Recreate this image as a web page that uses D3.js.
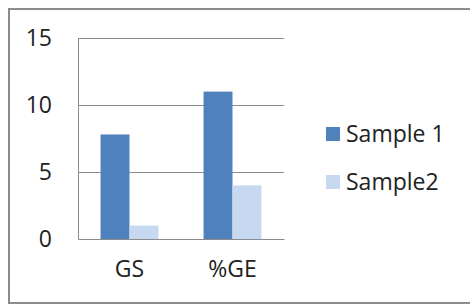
<!DOCTYPE html>
<html>
<head>
<meta charset="utf-8">
<script src="https://cdn.jsdelivr.net/npm/d3@7"></script>
<style>
  html, body { margin: 0; padding: 0; background: #fff; }
  svg { display: block; font-family: "Open Sans", sans-serif; }
</style>
</head>
<body>
<div id="chart"></div>
<script>
const categories = ["GS", "%GE"];
const seriesNames = ["Sample 1", "Sample2"];
const sample1 = [7.8, 11];
const sample2 = [1, 4];
const yTicks = [0, 5, 10, 15];
const colors = ["#4f81bd", "#c6d9f1"];

const width = 470, height = 306;
const margin = { top: 38, right: 186, bottom: 67, left: 78 };
const innerWidth = width - margin.left - margin.right;
const innerHeight = height - margin.top - margin.bottom;

const svg = d3.select("#chart").append("svg")
  .attr("width", width)
  .attr("height", height);

// outer frame (runs past the right edge like the reference)
svg.append("rect")
  .attr("x", 9).attr("y", 9)
  .attr("width", 480).attr("height", 294)
  .attr("fill", "none")
  .attr("stroke", "#8c8c8c")
  .attr("stroke-width", 2);

const g = svg.append("g")
  .attr("transform", `translate(${margin.left},${margin.top})`);

const x0 = d3.scaleBand()
  .domain(categories)
  .range([0, innerWidth])
  .padding(0);

const x1 = d3.scaleBand()
  .domain(seriesNames)
  .range([0, x0.bandwidth()])
  .paddingInner(0)
  .paddingOuter(0.78);

const y = d3.scaleLinear()
  .domain([0, 15])
  .range([innerHeight, 0]);

// gridlines
const grid = g.append("g")
  .call(d3.axisLeft(y).tickValues(yTicks.slice(1)).tickSize(-innerWidth).tickFormat(""));
grid.select(".domain").remove();
grid.selectAll("text").remove();
grid.selectAll("line").attr("stroke", "#8c8c8c");

// y axis
const yAxis = g.append("g")
  .call(d3.axisLeft(y).tickValues(yTicks).tickSize(0).tickPadding(26));
yAxis.select(".domain").attr("stroke", "#8c8c8c");
yAxis.selectAll("text")
  .attr("font-size", 23)
  .attr("font-family", "Open Sans, sans-serif")
  .attr("fill", "#222");

const rows = categories.map((c, i) => ({ cat: c, values: [sample1[i], sample2[i]] }));

g.selectAll(".group")
  .data(rows)
  .enter().append("g")
  .attr("class", "group")
  .attr("transform", d => `translate(${x0(d.cat)},0)`)
  .selectAll("rect")
  .data(d => d.values.map((v, j) => ({ name: seriesNames[j], value: v, color: colors[j] })))
  .enter().append("rect")
  .attr("x", d => x1(d.name))
  .attr("y", d => y(d.value))
  .attr("width", x1.bandwidth())
  .attr("height", d => innerHeight - y(d.value))
  .attr("fill", d => d.color);

// x axis
const xAxis = g.append("g")
  .attr("transform", `translate(0,${innerHeight})`)
  .call(d3.axisBottom(x0).tickSize(0).tickPadding(22));
xAxis.select(".domain").attr("stroke", "#8c8c8c");
xAxis.selectAll("text")
  .attr("font-size", 23)
  .attr("font-family", "Open Sans, sans-serif")
  .attr("fill", "#222");

// legend
const legend = svg.append("g")
  .selectAll("g")
  .data(seriesNames)
  .enter().append("g")
  .attr("transform", (d, i) => `translate(326,${134 + i * 48})`);

legend.append("rect")
  .attr("x", 0).attr("y", -7)
  .attr("width", 14).attr("height", 14)
  .attr("fill", (d, i) => colors[i]);

legend.append("text")
  .attr("x", 20)
  .attr("y", 0)
  .attr("dy", "0.35em")
  .attr("font-size", 23)
  .attr("fill", "#222")
  .text(d => d);
</script>
</body>
</html>
